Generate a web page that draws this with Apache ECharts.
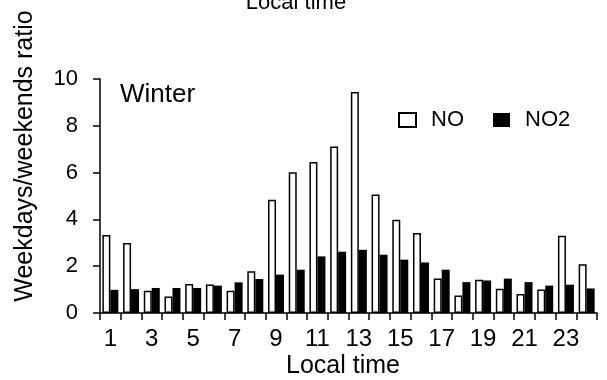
<!DOCTYPE html>
<html>
<head>
<meta charset="utf-8">
<script src="https://cdn.jsdelivr.net/npm/echarts@6/dist/echarts.min.js"></script>
<style>
  html, body { margin: 0; padding: 0; background: #fff; }
  #chart { width: 607px; height: 380px; }
</style>
</head>
<body>
<div id="chart"></div>
<script>
// Hour of day (local time)
const hours = ['1','2','3','4','5','6','7','8','9','10','11','12',
               '13','14','15','16','17','18','19','20','21','22','23','24'];
// Weekday / weekend concentration ratio, winter
const noRatio  = [3.33, 2.99, 0.95, 0.71, 1.24, 1.22, 0.95, 1.78, 4.84, 6.01, 6.45, 7.12,
                  9.44, 5.06, 3.99, 3.42, 1.47, 0.75, 1.42, 1.04, 0.81, 1.00, 3.30, 2.08];
const no2Ratio = [0.99, 1.02, 1.07, 1.07, 1.07, 1.17, 1.31, 1.45, 1.64, 1.85, 2.42, 2.62,
                  2.70, 2.49, 2.28, 2.16, 1.85, 1.32, 1.39, 1.47, 1.32, 1.17, 1.21, 1.05];
const yTicks = { min: 0, max: 10, interval: 2 };

const FONT = '"Liberation Sans", Arial, sans-serif';
const chart = echarts.init(document.getElementById('chart'), null, { renderer: 'canvas' });

chart.setOption({
  animation: false,
  backgroundColor: '#fff',
  textStyle: { fontFamily: FONT, color: '#000' },
  grid: { left: 100, right: 10, top: 79, bottom: 67 },
  legend: {
    left: 393, top: 103,
    itemWidth: 17, itemHeight: 14, itemGap: 29,
    icon: 'rect',
    textStyle: { fontFamily: FONT, fontSize: 22, color: '#000', lineHeight: 24, padding: [0, 0, 0, 10] },
    data: ['NO', 'NO2']
  },
  xAxis: {
    type: 'category',
    data: hours,
    boundaryGap: true,
    axisLine: { show: true, lineStyle: { color: '#000', width: 1.5 } },
    axisTick: { show: true, interval: 0, length: 7, lineStyle: { color: '#000', width: 1.5 } },
    axisLabel: { interval: 1, fontFamily: FONT, fontSize: 24, color: '#000', margin: 14 },
    splitLine: { show: false }
  },
  yAxis: {
    type: 'value',
    min: yTicks.min, max: yTicks.max, interval: yTicks.interval,
    axisLine: { show: true, lineStyle: { color: '#000', width: 1.5 } },
    axisTick: { show: true, length: 7, lineStyle: { color: '#000', width: 1.5 } },
    axisLabel: { fontFamily: FONT, fontSize: 22, color: '#000', margin: 22 },
    splitLine: { show: false }
  },
  series: [
    {
      name: 'NO', type: 'bar', data: noRatio,
      barWidth: 8, barGap: '0%',
      itemStyle: { color: '#fff', borderColor: '#000', borderWidth: 1.5 }
    },
    {
      name: 'NO2', type: 'bar', data: no2Ratio,
      barWidth: 8,
      itemStyle: { color: '#000' }
    }
  ],
  graphic: [
    {
      type: 'text', x: 120, y: 95,
      style: { text: 'Winter', fontFamily: FONT, fontSize: 26, fill: '#000',
               textAlign: 'left', textVerticalAlign: 'middle' }
    },
    {
      // x-axis title
      type: 'text', x: 343, y: 366,
      style: { text: 'Local time', fontFamily: FONT, fontSize: 25, fill: '#000',
               textAlign: 'center', textVerticalAlign: 'middle' }
    },
    {
      // y-axis title
      type: 'text', x: 25, y: 156, rotation: Math.PI / 2,
      style: { text: 'Weekdays/weekends ratio', fontFamily: FONT, fontSize: 25, fill: '#000',
               textAlign: 'center', textVerticalAlign: 'middle' }
    },
    {
      // title of the panel above, clipped by the top edge
      type: 'text', x: 296, y: 3,
      style: { text: 'Local time', fontFamily: FONT, fontSize: 22, fill: '#000',
               textAlign: 'center', textVerticalAlign: 'middle' }
    }
  ]
});
</script>
</body>
</html>
